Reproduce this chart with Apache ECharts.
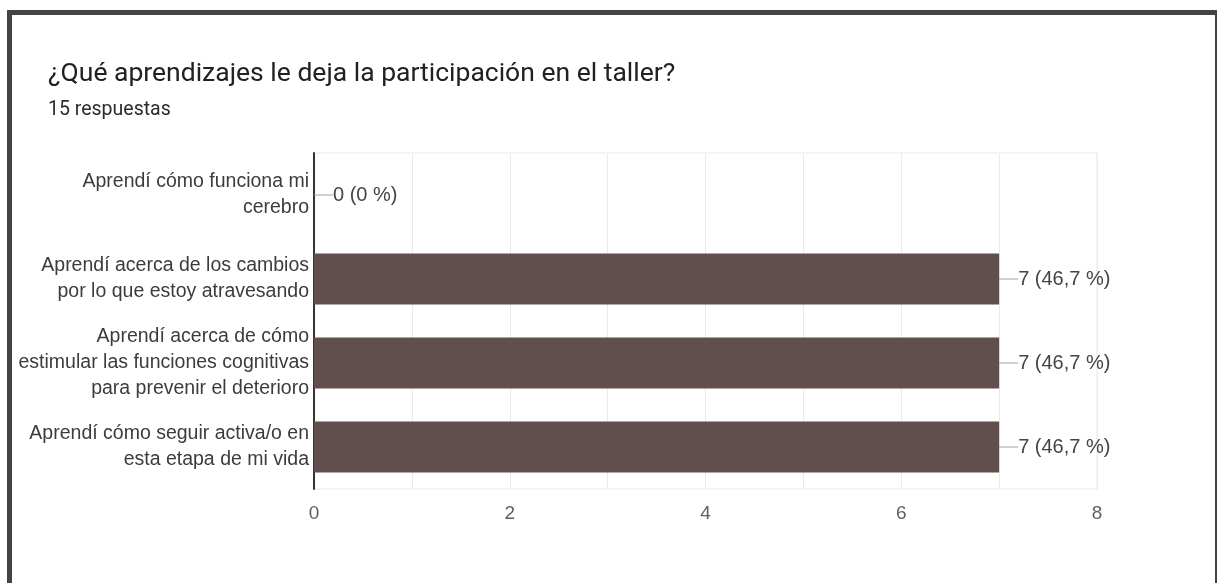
<!DOCTYPE html>
<html>
<head>
<meta charset="utf-8">
<script src="https://cdn.jsdelivr.net/npm/echarts@6/dist/echarts.min.js"></script>
<style>
  html, body { margin: 0; padding: 0; background: #ffffff; }
  #chart { width: 1217px; height: 583px; }
</style>
</head>
<body>
<div id="chart"></div>
<script>
// Survey question, answers and response counts
const questionTitle = '¿Qué aprendizajes le deja la participación en el taller?';
const totalResponses = 15;
const categories = [
  'Aprendí cómo funciona mi\ncerebro',
  'Aprendí acerca de los cambios\npor lo que estoy atravesando',
  'Aprendí acerca de cómo\nestimular las funciones cognitivas\npara prevenir el deterioro',
  'Aprendí cómo seguir activa/o en\nesta etapa de mi vida'
];
const counts = [0, 7, 7, 7];
const axisMax = 8;
const axisStep = 1;

// "7 (46,7 %)" style label: count plus share of respondents, comma decimal
function pctText(v) {
  const p = v / totalResponses * 100;
  const s = Number.isInteger(p) ? String(p) : p.toFixed(1).replace('.', ',');
  return v + ' (' + s + ' %)';
}

const chart = echarts.init(document.getElementById('chart'), null, { renderer: 'canvas' });

chart.setOption({
  backgroundColor: '#ffffff',
  animation: false,
  title: {
    text: questionTitle,
    subtext: totalResponses + ' respuestas',
    left: 43,
    top: 56,
    itemGap: 12,
    textStyle: { fontFamily: 'Roboto', fontSize: 26.5, fontWeight: 'normal', color: '#202124' },
    subtextStyle: { fontFamily: 'Roboto', fontSize: 19.5, color: '#2a2b2e' }
  },
  graphic: [{
    type: 'rect',
    silent: true,
    shape: { x: 9.5, y: 12.5, width: 1208, height: 620 },
    style: { fill: 'none', stroke: '#444444', lineWidth: 5 }
  }],
  grid: {
    left: 314, right: 120, top: 153, bottom: 94,
    show: true, borderColor: '#ebebeb', borderWidth: 1, containLabel: false
  },
  xAxis: {
    type: 'value',
    min: 0, max: axisMax, interval: axisStep,
    axisLine: { show: false },
    axisTick: { show: false },
    splitLine: { show: true, lineStyle: { color: '#ebebeb', width: 1 } },
    axisLabel: {
      margin: 15,
      fontFamily: 'Liberation Sans, Arial, sans-serif',
      fontSize: 19,
      color: '#5f5f5f',
      formatter: v => (v % 2 === 0 ? String(v) : '')
    }
  },
  yAxis: {
    type: 'category',
    inverse: true,
    data: categories,
    axisLine: { show: true, lineStyle: { color: '#333333', width: 2 } },
    axisTick: { show: false },
    axisLabel: {
      margin: 5,
      align: 'right',
      fontFamily: 'Liberation Sans, Arial, sans-serif',
      fontSize: 19.5,
      lineHeight: 26,
      color: '#3c3c3c'
    }
  },
  series: [{
    type: 'bar',
    data: counts,
    barWidth: '61%',
    itemStyle: { color: '#614f4d' },
    label: {
      show: true,
      position: 'right',
      distance: 0,
      formatter: p => '{ln|}' + pctText(p.value),
      fontFamily: 'Liberation Sans, Arial, sans-serif',
      fontSize: 20,
      color: '#444444',
      rich: {
        ln: { width: 19, height: 1, backgroundColor: '#9e9e9e' }
      }
    }
  }]
});
</script>
</body>
</html>
